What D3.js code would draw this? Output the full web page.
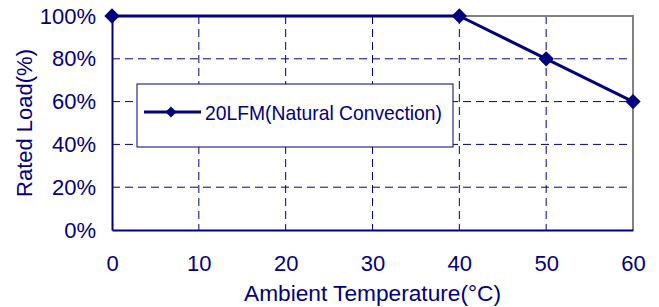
<!DOCTYPE html>
<html>
<head>
<meta charset="utf-8">
<script src="https://cdn.jsdelivr.net/npm/d3@7"></script>
<style>
  body { margin: 0; background: #fff; }
  text { font-family: "Liberation Sans", Arial, sans-serif; fill: #000080; }
</style>
</head>
<body>
<div id="chart"></div>
<script>
// derating curve data
var temps = [0, 40, 50, 60];
var loads = [100, 100, 80, 60];
var xTicks = [0, 10, 20, 30, 40, 50, 60];
var yTicks = [0, 20, 40, 60, 80, 100];
var seriesName = "20LFM(Natural Convection)";

var navy = "#000080";

var svg = d3.select("#chart")
    .append("svg")
    .attr("width", 659)
    .attr("height", 307),
    margin = { top: 16, right: 26, bottom: 77, left: 112 },
    width = 659 - margin.left - margin.right,
    height = 307 - margin.top - margin.bottom,
    g = svg.append("g").attr("transform", "translate(" + margin.left + "," + margin.top + ")");

var x = d3.scaleLinear().domain([0, 60]).range([0, width]),
    y = d3.scaleLinear().domain([0, 100]).range([height, 0]);

// grid
g.append("g")
    .selectAll("line")
    .data(xTicks.filter(function (d) { return d > 0 && d < 60; }))
    .enter().append("line")
    .attr("x1", function (d) { return x(d); })
    .attr("x2", function (d) { return x(d); })
    .attr("y1", 0)
    .attr("y2", height)
    .attr("stroke", navy)
    .attr("stroke-width", 1)
    .attr("stroke-dasharray", "8,5");

g.append("g")
    .selectAll("line")
    .data(yTicks.filter(function (d) { return d > 0 && d < 100; }))
    .enter().append("line")
    .attr("x1", 0)
    .attr("x2", width)
    .attr("y1", function (d) { return y(d); })
    .attr("y2", function (d) { return y(d); })
    .attr("stroke", navy)
    .attr("stroke-width", 1)
    .attr("stroke-dasharray", "8,5");

// top / right frame
g.append("path")
    .attr("d", "M0," + y(100) + "H" + x(60) + "V" + y(0))
    .attr("fill", "none")
    .attr("stroke", "#808080")
    .attr("stroke-width", 2);

// axes
var xAxis = g.append("g")
    .attr("transform", "translate(0," + height + ")")
    .call(d3.axisBottom(x).tickValues(xTicks).tickSize(0).tickPadding(25));
xAxis.select(".domain").attr("stroke", navy).attr("stroke-width", 2);
xAxis.selectAll("text").style("font-size", "22px").attr("fill", navy);

var yAxis = g.append("g")
    .call(d3.axisLeft(y).tickValues(yTicks).tickSize(0).tickPadding(16)
        .tickFormat(function (d) { return d + "%"; }));
yAxis.select(".domain").attr("stroke", navy).attr("stroke-width", 2);
yAxis.selectAll("text").style("font-size", "22px").attr("fill", navy);

// legend
var legend = g.append("g").attr("transform", "translate(25,68)");
legend.append("rect")
    .attr("width", 316)
    .attr("height", 63)
    .attr("fill", "#fff")
    .attr("stroke", navy)
    .attr("stroke-width", 1);
legend.append("line")
    .attr("x1", 7).attr("x2", 64)
    .attr("y1", 28).attr("y2", 28)
    .attr("stroke", navy)
    .attr("stroke-width", 3);
legend.append("path")
    .attr("d", d3.symbol().type(d3.symbolDiamond2).size(78)())
    .attr("transform", "translate(34,28)")
    .attr("fill", navy);
legend.append("text")
    .attr("x", 68)
    .attr("y", 36)
    .attr("textLength", 237)
    .attr("lengthAdjust", "spacingAndGlyphs")
    .style("font-size", "21px")
    .text(seriesName);

// series
var pts = temps.map(function (t, i) { return { t: t, v: loads[i] }; });
var line = d3.line()
    .x(function (d) { return x(d.t); })
    .y(function (d) { return y(d.v); });

g.append("path")
    .datum(pts)
    .attr("d", line)
    .attr("fill", "none")
    .attr("stroke", navy)
    .attr("stroke-width", 3)
    .attr("stroke-linejoin", "round");

g.selectAll(".marker")
    .data(pts)
    .enter().append("path")
    .attr("class", "marker")
    .attr("d", d3.symbol().type(d3.symbolDiamond2).size(150)())
    .attr("transform", function (d) { return "translate(" + x(d.t) + "," + y(d.v) + ")"; })
    .attr("fill", navy);

// axis titles
svg.append("text")
    .attr("transform", "translate(32," + (margin.top + height / 2) + ") rotate(-90)")
    .attr("text-anchor", "middle")
    .style("font-size", "22px")
    .text("Rated Load(%)");

svg.append("text")
    .attr("x", margin.left + width / 2)
    .attr("y", 301)
    .attr("text-anchor", "middle")
    .attr("textLength", 257)
    .attr("lengthAdjust", "spacingAndGlyphs")
    .style("font-size", "22px")
    .text("Ambient Temperature(°C)");
</script>
</body>
</html>
